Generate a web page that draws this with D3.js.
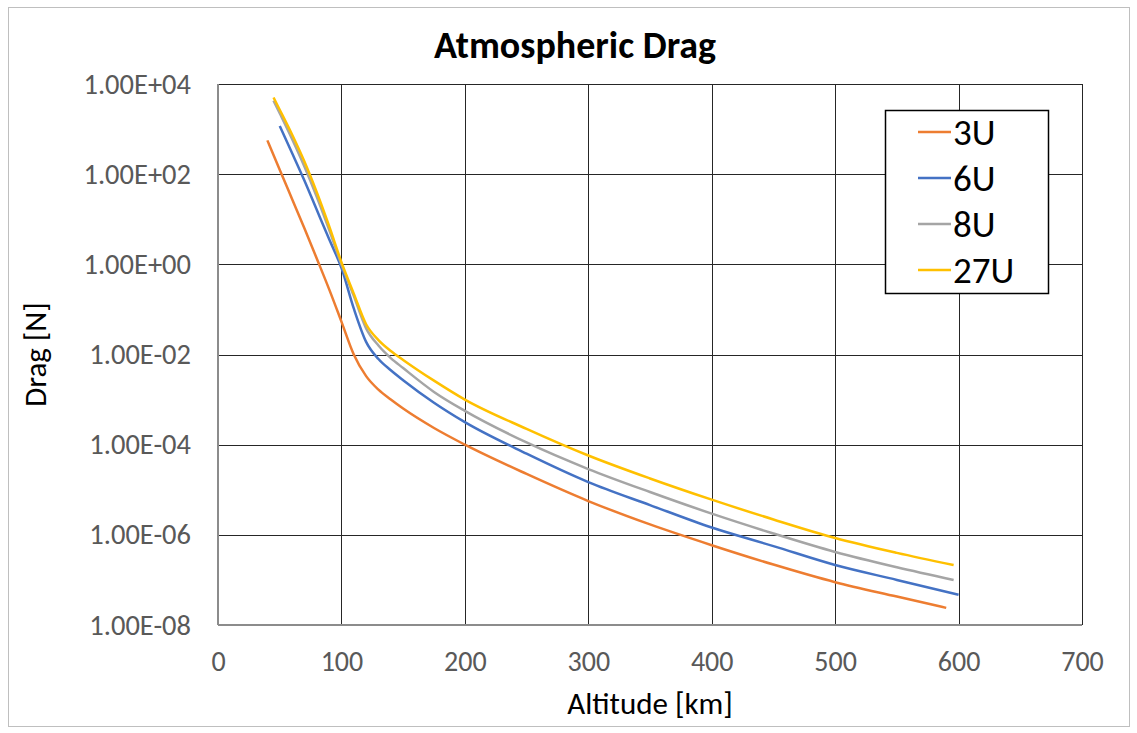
<!DOCTYPE html>
<html>
<head>
	<meta charset="utf-8">
	<title>Atmospheric Drag</title>
	<script src="https://d3js.org/d3.v7.min.js"></script>
	<style>
		body { margin: 0; background: #fff; }
		text { font-family: Carlito, Calibri, Lato, sans-serif; }
	</style>
</head>
<body>
	<div class="chart"></div>

	<script type="text/javascript">
		// 数据：每个序列有自己的高度点（km）和阻力值（N）
		var seriesNames = ['3U', '6U', '8U', '27U']
		var seriesColors = ['#ED7D31', '#4472C4', '#A5A5A5', '#FFC000']

		var alt3U = [40, 50, 60, 70, 80, 90, 100, 110, 120, 130, 140, 150, 175, 200, 250, 300, 350, 400, 450, 500, 550, 590]
		var drag3U = [562, 126, 28.2, 6.31, 1.35, 0.282, 0.0537, 0.01, 3.31e-3, 1.66e-3, 1.0e-3, 6.31e-4, 2.34e-4, 1.0e-4,
			2.24e-5, 5.62e-6, 1.70e-6, 5.89e-7, 2.19e-7, 8.91e-8, 4.27e-8, 2.40e-8]

		var alt6U = [50, 60, 70, 80, 90, 100, 110, 120, 130, 140, 150, 175, 200, 250, 300, 350, 400, 450, 500, 550, 600]
		var drag6U = [1175, 295, 72.4, 16.2, 3.63, 0.832, 0.105, 0.0191, 7.94e-3, 4.47e-3, 2.69e-3, 8.51e-4, 3.16e-4,
			6.31e-5, 1.48e-5, 4.57e-6, 1.45e-6, 5.62e-7, 2.14e-7, 1.0e-7, 4.68e-8]

		var alt8U = [45, 50, 60, 70, 80, 90, 100, 110, 120, 130, 140, 150, 175, 200, 250, 300, 350, 400, 450, 500, 550, 596]
		var drag8U = [4270, 2240, 603, 148, 31.6, 5.89, 1.0, 0.2, 0.038, 0.0158, 8.32e-3, 5.01e-3, 1.48e-3, 5.62e-4,
			1.12e-4, 2.88e-5, 8.91e-6, 2.95e-6, 1.07e-6, 4.17e-7, 1.91e-7, 1.0e-7]

		var alt27U = [45, 50, 60, 70, 80, 90, 100, 110, 120, 130, 140, 150, 175, 200, 250, 300, 350, 400, 450, 500, 550, 596]
		var drag27U = [5010, 2690, 759, 191, 39.8, 7.08, 1.12, 0.224, 0.0468, 0.0209, 0.012, 7.59e-3, 2.63e-3, 1.0e-3,
			2.24e-4, 5.75e-5, 1.78e-5, 6.03e-6, 2.19e-6, 8.51e-7, 3.98e-7, 2.14e-7]

		var xTicks = [0, 100, 200, 300, 400, 500, 600, 700]
		var yTicks = [1e-8, 1e-6, 1e-4, 1e-2, 1e0, 1e2, 1e4]

		var altArr = [alt3U, alt6U, alt8U, alt27U]
		var dragArr = [drag3U, drag6U, drag8U, drag27U]

		var width = 1137
		var height = 733
		var plot = { left: 218, top: 84, right: 1082, bottom: 625 }

		/**
		 * 画布
		 */
		var svg = d3
			.select('.chart')
			.append('svg')
			.attr('width', width)
			.attr('height', height)

		svg.append('rect')
			.attr('x', 8.5)
			.attr('y', 7.5)
			.attr('width', 1121)
			.attr('height', 719)
			.attr('fill', '#fff')
			.attr('stroke', '#bfbfbf')

		/**
		 * 比例尺
		 */
		var xScale = d3.scaleLinear().domain([0, 700]).range([plot.left, plot.right])
		var yScale = d3.scaleLog().domain([1e-8, 1e4]).range([plot.bottom, plot.top])

		function sciFormat(v) {
			var exp = Math.round(Math.log10(v))
			var mant = v / Math.pow(10, exp)
			var sign = exp < 0 ? '-' : '+'
			var e = Math.abs(exp)
			return mant.toFixed(2) + 'E' + sign + (e < 10 ? '0' + e : e)
		}

		/**
		 * 网格线
		 */
		svg.append('g')
			.attr('class', 'grid')
			.attr('transform', `translate(0, ${plot.bottom})`)
			.call(d3.axisBottom(xScale).tickValues(xTicks).tickSize(-(plot.bottom - plot.top)).tickFormat(''))
			.call((g) => g.select('.domain').remove())

		svg.append('g')
			.attr('class', 'grid')
			.attr('transform', `translate(${plot.left}, 0)`)
			.call(d3.axisLeft(yScale).tickValues(yTicks).tickSize(-(plot.right - plot.left)).tickFormat(''))
			.call((g) => g.select('.domain').remove())

		svg.selectAll('.grid line')
			.attr('stroke', '#262626')
			.attr('stroke-width', 1)
			.attr('shape-rendering', 'crispEdges')

		// 坐标轴线（灰色）
		svg.append('line')
			.attr('x1', plot.left).attr('x2', plot.left)
			.attr('y1', plot.top).attr('y2', plot.bottom)
			.attr('stroke', '#8c8c8c').attr('stroke-width', 2)
		svg.append('line')
			.attr('x1', plot.left).attr('x2', plot.right)
			.attr('y1', plot.bottom).attr('y2', plot.bottom)
			.attr('stroke', '#8c8c8c').attr('stroke-width', 2)

		/**
		 * 刻度标签
		 */
		var xAxis = svg.append('g')
			.attr('transform', `translate(0, ${plot.bottom})`)
			.call(d3.axisBottom(xScale).tickValues(xTicks).tickSize(0).tickPadding(26))
		xAxis.select('.domain').remove()
		xAxis.selectAll('text')
			.attr('fill', '#595959')
			.style('font-size', '28px')

		var yAxis = svg.append('g')
			.attr('transform', `translate(${plot.left}, 0)`)
			.call(d3.axisLeft(yScale).tickValues(yTicks).tickSize(0).tickPadding(27).tickFormat(sciFormat))
		yAxis.select('.domain').remove()
		yAxis.selectAll('text')
			.attr('fill', '#595959')
			.style('font-size', '28.5px')

		/**
		 * 标题
		 */
		svg.append('text')
			.attr('x', 575)
			.attr('y', 58)
			.attr('text-anchor', 'middle')
			.attr('font-weight', 'bold')
			.attr('fill', '#000')
			.style('font-size', '38px')
			.text('Atmospheric Drag')

		svg.append('text')
			.attr('x', (plot.left + plot.right) / 2)
			.attr('y', 714)
			.attr('text-anchor', 'middle')
			.attr('fill', '#000')
			.style('font-size', '31px')
			.text('Altitude [km]')

		svg.append('text')
			.attr('transform', `translate(46, ${(plot.top + plot.bottom) / 2}) rotate(-90)`)
			.attr('text-anchor', 'middle')
			.attr('fill', '#000')
			.style('font-size', '31px')
			.text('Drag [N]')

		/**
		 * 曲线
		 */
		var lineGen = d3.line()
			.x((d) => xScale(d[0]))
			.y((d) => yScale(d[1]))
			.curve(d3.curveMonotoneX)

		var lineData = seriesNames.map((name, i) => altArr[i].map((a, j) => [a, dragArr[i][j]]))

		svg.append('g')
			.selectAll('path')
			.data(lineData)
			.enter()
			.append('path')
			.attr('fill', 'none')
			.attr('stroke', (d, i) => seriesColors[i])
			.attr('stroke-width', 2.5)
			.attr('stroke-linejoin', 'round')
			.attr('d', lineGen)

		/**
		 * 图例
		 */
		var legend = svg.append('g')
		legend.append('rect')
			.attr('x', 885.5)
			.attr('y', 110.5)
			.attr('width', 163)
			.attr('height', 183)
			.attr('fill', '#fff')
			.attr('stroke', '#000')
			.attr('stroke-width', 1.5)

		var items = legend.selectAll('.item')
			.data(seriesNames)
			.enter()
			.append('g')
			.attr('transform', (d, i) => `translate(918, ${132 + i * 46})`)

		items.append('line')
			.attr('x1', 0).attr('x2', 33)
			.attr('stroke', (d, i) => seriesColors[i])
			.attr('stroke-width', 2.5)

		items.append('text')
			.attr('x', 35)
			.attr('dy', '0.36em')
			.attr('fill', '#000')
			.style('font-size', '37px')
			.text((d) => d)
	</script>
</body>
</html>
